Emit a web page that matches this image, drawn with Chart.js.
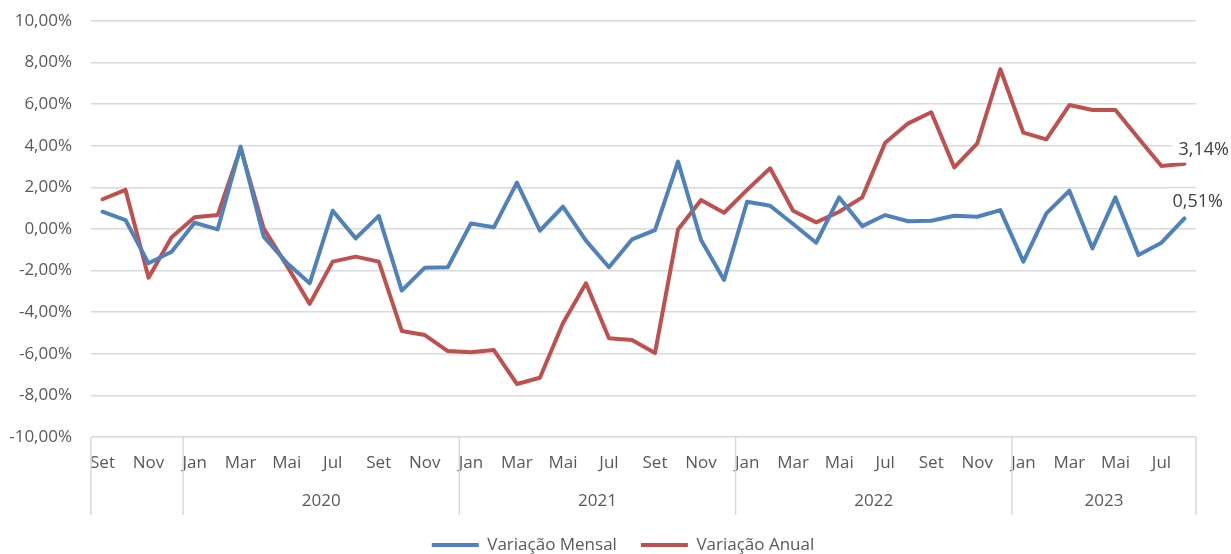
<!DOCTYPE html>
<html>
<head>
<meta charset="utf-8">
<script src="https://cdn.jsdelivr.net/npm/chart.js@4.4.0/dist/chart.umd.min.js"></script>
<style>
  html, body { margin: 0; padding: 0; background: #fff; }
  #box { width: 1231px; height: 554px; }
</style>
</head>
<body>
<div id="box"><canvas id="grafico"></canvas></div>
<script>
// meses (Set/2019 a Ago/2023)
const nomesMeses = ['Jan', 'Fev', 'Mar', 'Abr', 'Mai', 'Jun', 'Jul', 'Ago', 'Set', 'Out', 'Nov', 'Dez'];
const anos = ['2020', '2021', '2022', '2023'];
const inicioAno = [4, 16, 28, 40];

const categorias = [];
for (let i = 0; i < 48; i++) {
    categorias.push(nomesMeses[(i + 8) % 12]);
}

const variacaoMensal = [
    0.83, 0.43, -1.65, -1.09,
    0.30, -0.02, 3.96, -0.37, -1.62, -2.61, 0.88, -0.45, 0.63, -2.96, -1.86, -1.84,
    0.26, 0.08, 2.23, -0.08, 1.07, -0.56, -1.84, -0.50, -0.05, 3.24, -0.53, -2.45,
    1.31, 1.12, 0.24, -0.66, 1.52, 0.14, 0.67, 0.37, 0.40, 0.64, 0.59, 0.91,
    -1.57, 0.75, 1.84, -0.93, 1.52, -1.25, -0.66, 0.51
];

const variacaoAnual = [
    1.43, 1.88, -2.34, -0.40,
    0.56, 0.67, 3.88, 0.03, -1.75, -3.60, -1.57, -1.33, -1.57, -4.90, -5.10, -5.87,
    -5.92, -5.82, -7.45, -7.15, -4.53, -2.61, -5.25, -5.34, -5.96, -0.02, 1.39, 0.78,
    1.88, 2.92, 0.88, 0.32, 0.83, 1.52, 4.15, 5.08, 5.61, 2.96, 4.12, 7.68,
    4.63, 4.31, 5.96, 5.72, 5.72, 4.36, 3.03, 3.14
];

const formatar = v => v.toFixed(2).replace('.', ',') + '%';

Chart.defaults.font.family = "'Open Sans', sans-serif";
Chart.defaults.font.size = 17;
Chart.defaults.color = '#595959';

// linhas separadoras dos anos e rótulos dos anos
const eixoAnos = {
    id: 'eixoAnos',
    afterLayout(chart) {
        // legenda um pouco à direita, como no original
        chart.legend.left += 25;
        chart.legend.right += 25;
    },
    afterDraw(chart) {
        const ctx = chart.ctx;
        const xs = chart.scales.x;
        const area = chart.chartArea;
        const passo = (xs.right - xs.left) / categorias.length;
        const borda = i => xs.getPixelForValue(i) - passo / 2;

        ctx.save();
        ctx.strokeStyle = '#d9d9d9';
        ctx.lineWidth = 1.5;
        const limites = [0, ...inicioAno, categorias.length];
        limites.forEach(i => {
            const x = i === categorias.length ? xs.right : borda(i);
            ctx.beginPath();
            ctx.moveTo(x, area.bottom);
            ctx.lineTo(x, area.bottom + 78);
            ctx.stroke();
        });

        ctx.fillStyle = '#595959';
        ctx.font = "17px 'Open Sans', sans-serif";
        ctx.textAlign = 'center';
        ctx.textBaseline = 'middle';
        anos.forEach((ano, k) => {
            const a = borda(inicioAno[k]);
            const b = k + 1 < inicioAno.length ? borda(inicioAno[k + 1]) : xs.right;
            ctx.fillText(ano, (a + b) / 2, area.bottom + 64);
        });
        ctx.restore();
    }
};

// rótulos do último ponto
const rotuloFinal = {
    id: 'rotuloFinal',
    afterDatasetsDraw(chart) {
        const ctx = chart.ctx;
        ctx.save();
        ctx.font = "18px 'Open Sans', sans-serif";
        ctx.textAlign = 'left';
        ctx.textBaseline = 'middle';
        const ajustes = [{ dx: -12, dy: -17 }, { dx: -6, dy: -14 }];
        chart.data.datasets.forEach((ds, d) => {
            const meta = chart.getDatasetMeta(d);
            const n = ds.data.length - 1;
            const p = meta.data[n];
            const txt = formatar(ds.data[n]);
            const x = p.x + ajustes[d].dx;
            const y = p.y + ajustes[d].dy;
            const w = ctx.measureText(txt).width;
            ctx.fillStyle = '#fff';
            ctx.fillRect(x - 6, y - 13, w + 12, 26);
            ctx.fillStyle = '#404040';
            ctx.fillText(txt, x, y);
        });
        ctx.restore();
    }
};

new Chart(document.getElementById('grafico'), {
    type: 'line',
    data: {
        labels: categorias,
        datasets: [
            {
                label: 'Variação Mensal',
                data: variacaoMensal,
                borderColor: '#4f81bd',
                backgroundColor: '#4f81bd',
                borderWidth: 4,
                borderCapStyle: 'round',
                borderJoinStyle: 'round',
                pointRadius: 0,
                tension: 0
            },
            {
                label: 'Variação Anual',
                data: variacaoAnual,
                borderColor: '#c0504d',
                backgroundColor: '#c0504d',
                borderWidth: 4,
                borderCapStyle: 'round',
                borderJoinStyle: 'round',
                pointRadius: 0,
                tension: 0
            }
        ]
    },
    options: {
        responsive: true,
        maintainAspectRatio: false,
        animation: false,
        layout: { padding: { top: 21, right: 35, left: 0, bottom: -9.5 } },
        plugins: {
            tooltip: { enabled: false },
            legend: {
                position: 'bottom',
                labels: {
                    usePointStyle: true,
                    pointStyle: 'line',
                    pointStyleWidth: 47,
                    boxHeight: 17,
                    padding: 24,
                    color: '#595959',
                    font: { size: 17 }
                }
            }
        },
        scales: {
            x: {
                offset: true,
                grid: { display: false },
                border: { display: false },
                ticks: {
                    autoSkip: false,
                    maxRotation: 0,
                    padding: 8,
                    callback: (v, i) => (i % 2 === 0 ? categorias[i] : '')
                },
                afterFit: s => { s.height = 75.5; }
            },
            y: {
                min: -10,
                max: 10,
                border: { display: false },
                grid: {
                    color: '#d9d9d9',
                    lineWidth: 1.5,
                    drawTicks: true,
                    tickLength: 19,
                    tickColor: 'rgba(0,0,0,0)'
                },
                ticks: {
                    stepSize: 2,
                    padding: 0,
                    callback: v => formatar(v)
                },
                afterFit: s => { s.width = 91; }
            }
        }
    },
    plugins: [eixoAnos, rotuloFinal]
});
</script>
</body>
</html>
